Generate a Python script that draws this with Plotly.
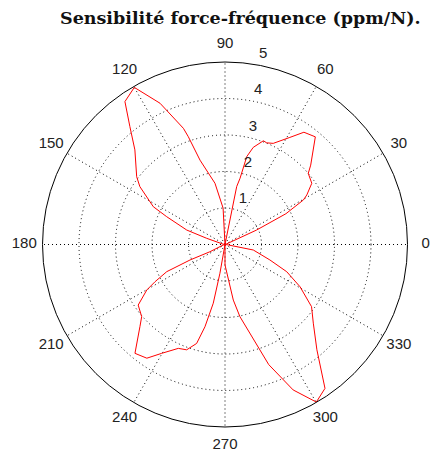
import plotly.graph_objects as go

# Sensitivity curve, angles in degrees, radius in ppm/N
theta_deg = [0, 20, 24.6, 26.8, 29.6, 31.2, 35.2, 40.5, 42.8, 50, 54.9, 58.8, 64.5, 67.7, 69.7,
             73.8, 76.1, 77.2, 78.6, 86, 93, 99.3, 106.5, 108.8, 109.7, 114.7, 120, 125, 128.9,
             133.6, 142.5, 145.8, 152.2, 154.5, 159.3, 161.3, 170, 180, 195, 205.6, 203.9, 205,
             208, 210.2, 214.9, 220.9, 224, 230.4, 235.5, 239.8, 245.8, 250, 254, 256.3, 258.7,
             260, 266, 270, 278.5, 281.7, 290, 295.1, 300.1, 304.8, 311.1, 318.3, 324.3, 330.6,
             336.2, 341, 349, 355, 360]
r_vals = [0, 0.05, 0.95, 1.87, 2.47, 2.62, 2.91, 3.0, 3.2, 3.85, 3.76, 3.43, 3.07, 3.01, 3.03,
          2.77, 2.48, 1.86, 1.62, 0.0, 1.0, 1.70, 2.41, 3.12, 3.38, 4.26, 4.97, 4.78, 4.15,
          3.58, 3.05, 2.82, 2.22, 1.77, 1.12, 0.53, 0.05, 0, 0.05, 0.46, 1.05, 1.76,
          2.17, 2.48, 2.90, 3.02, 3.24, 3.87, 3.78, 3.45, 3.12, 3.07, 2.82, 2.32, 1.64,
          0.80, 0.0, 0.56, 1.54, 2.02, 3.5, 4.40, 4.99, 4.80, 3.83, 3.24, 2.92, 2.36,
          1.85, 1.30, 0.79, 0.05, 0]

angle_ticks = list(range(0, 360, 30))
angle_labels = [str(a) for a in angle_ticks]
radial_ticks = [1, 2, 3, 4, 5]
radial_labels = [str(v) for v in radial_ticks]
r_max = 5
title_text = "Sensibilité force-fréquence (ppm/N)."

W, H = 431, 454
CX, CY, RPX = 225.0, 244.5, 182.5      # plot circle centre / radius in pixels
EXT = 1.12                              # label layer extends beyond the plot circle


def dom(scale):
    rp = RPX * scale
    return dict(x=[(CX - rp) / W, (CX + rp) / W], y=[1 - (CY + rp) / H, 1 - (CY - rp) / H])


fig = go.Figure()

fig.add_trace(go.Scatterpolar(
    r=r_vals, theta=theta_deg, mode="lines",
    line=dict(color="#ff0000", width=1),
    showlegend=False, hoverinfo="skip", subplot="polar",
))

label_font = dict(family="Liberation Sans", size=15, color="#222")

# angular labels at 1.1*rmax (MATLAB style), on an invisible wider polar layer
fig.add_trace(go.Scatterpolar(
    r=[1.1 * r_max] * len(angle_ticks), theta=angle_ticks, mode="text",
    text=angle_labels, textposition="middle center", textfont=label_font,
    cliponaxis=False, showlegend=False, hoverinfo="skip", subplot="polar2",
))

# radial labels along 82 degrees
fig.add_trace(go.Scatterpolar(
    r=[v + 0.05 for v in radial_ticks], theta=[82] * len(radial_ticks), mode="text",
    text=["\u00a0\u00a0" + s for s in radial_labels], textposition="top right",
    textfont=label_font,
    cliponaxis=False, showlegend=False, hoverinfo="skip", subplot="polar2",
))

grid = dict(gridcolor="#000", gridwidth=1, griddash="1px,3px")

fig.update_layout(
    width=W, height=H,
    margin=dict(l=0, r=0, t=0, b=0),
    paper_bgcolor="white",
    showlegend=False,
    annotations=[dict(
        text="<b>" + title_text + "</b>", xref="paper", yref="paper",
        x=240.5 / W, y=1 - 18 / H, xanchor="center", yanchor="middle", showarrow=False,
        font=dict(family="DejaVu Serif", size=17.5, color="#111"),
    )],
    polar=dict(
        domain=dom(1.0),
        bgcolor="white",
        radialaxis=dict(range=[0, r_max], dtick=1, tick0=0, showticklabels=False,
                        ticks="", showline=False, **grid),
        angularaxis=dict(dtick=30, direction="counterclockwise", rotation=0,
                         showticklabels=False, ticks="", showline=True,
                         linecolor="#000", linewidth=1, **grid),
    ),
    polar2=dict(
        domain=dom(EXT),
        bgcolor="rgba(0,0,0,0)",
        radialaxis=dict(range=[0, r_max * EXT], visible=False, showgrid=False),
        angularaxis=dict(direction="counterclockwise", rotation=0, visible=False,
                         showgrid=False, showline=False),
    ),
)

fig.write_html("out.html", config={"displayModeBar": False},
               post_script="document.body.style.margin='0';")
